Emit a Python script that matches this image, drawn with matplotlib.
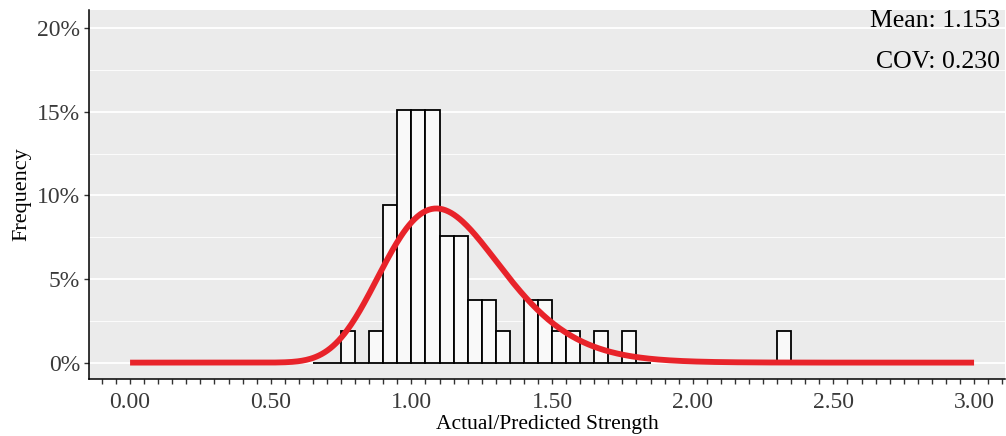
import numpy as np
import matplotlib
matplotlib.use("Agg")
import matplotlib.pyplot as plt
from matplotlib.ticker import MultipleLocator, FuncFormatter

# histogram of actual/predicted strength ratios (bin width 0.05)
bin_left = [0.65, 0.70, 0.75, 0.80, 0.85, 0.90, 0.95, 1.00, 1.05, 1.10, 1.15, 1.20,
            1.25, 1.30, 1.35, 1.40, 1.45, 1.50, 1.55, 1.60, 1.65, 1.70, 1.75, 1.80, 2.30]
counts = [0, 0, 1, 0, 1, 5, 8, 8, 8, 4, 4, 2,
          2, 1, 0, 2, 2, 1, 1, 0, 1, 0, 1, 0, 1]
bin_width = 0.05

# lognormal fit shown over the histogram
fit_mu = 0.123
fit_sigma = 0.195

mean_label = "Mean: 1.153"
cov_label = "COV: 0.230"

counts = np.array(counts, dtype=float)
pct = counts / counts.sum() * 100

x = np.linspace(0.0, 3.0, 600)
xs = np.clip(x, 1e-6, None)
pdf = np.exp(-(np.log(xs) - fit_mu) ** 2 / (2 * fit_sigma ** 2)) / (xs * fit_sigma * np.sqrt(2 * np.pi))
curve = pdf * bin_width * 100

plt.rcParams['font.family'] = ['Liberation Serif', 'DejaVu Serif']

fig = plt.figure(figsize=(10.06, 4.36), dpi=100)
ax = fig.add_axes([89 / 1006, (436 - 379) / 436, (1005 - 89) / 1006, (379 - 10) / 436])
ax.set_facecolor('#EBEBEB')

ax.bar(bin_left, pct, width=bin_width, align='edge', facecolor='#F9F9F9',
       edgecolor='black', linewidth=1.3, zorder=2)
ax.plot(x, curve, color='#E8232A', linewidth=4.2, solid_capstyle='butt', zorder=3)

ax.set_xlim(-0.146, 3.11)
ax.set_ylim(-0.98, 21.09)

ax.xaxis.set_major_locator(MultipleLocator(0.5))
ax.xaxis.set_minor_locator(MultipleLocator(0.05))
ax.xaxis.set_major_formatter(FuncFormatter(lambda v, p: f"{v:.2f}"))
ax.yaxis.set_major_locator(MultipleLocator(5))
ax.yaxis.set_minor_locator(MultipleLocator(2.5))
ax.yaxis.set_major_formatter(FuncFormatter(lambda v, p: f"{v:.0f}%"))

ax.grid(axis='y', which='major', color='white', linewidth=1.3, zorder=0)
ax.grid(axis='y', which='minor', color='white', linewidth=0.6, zorder=0)
ax.set_axisbelow(True)

for side in ('top', 'right'):
    ax.spines[side].set_visible(False)
for side in ('left', 'bottom'):
    ax.spines[side].set_color('black')
    ax.spines[side].set_linewidth(1.1)

ax.tick_params(axis='x', which='both', length=3.5, width=1.0, color='#333333',
               labelsize=17, labelcolor='#3A3A3A', pad=6)
ax.tick_params(axis='y', which='major', length=3.5, width=1.0, color='#333333',
               labelsize=17, labelcolor='#3A3A3A', pad=3)
ax.tick_params(axis='y', which='minor', length=0)

ax.set_xlabel("Actual/Predicted Strength", fontsize=15.5, color='black', labelpad=1)
ax.set_ylabel("Frequency", fontsize=16, color='black', labelpad=4)

ax.text(3.092, 20.45, mean_label, ha='right', va='center', fontsize=18.5, color='black')
ax.text(3.092, 17.95, cov_label, ha='right', va='center', fontsize=18.5, color='black')

fig.savefig("out.png", dpi=100)
